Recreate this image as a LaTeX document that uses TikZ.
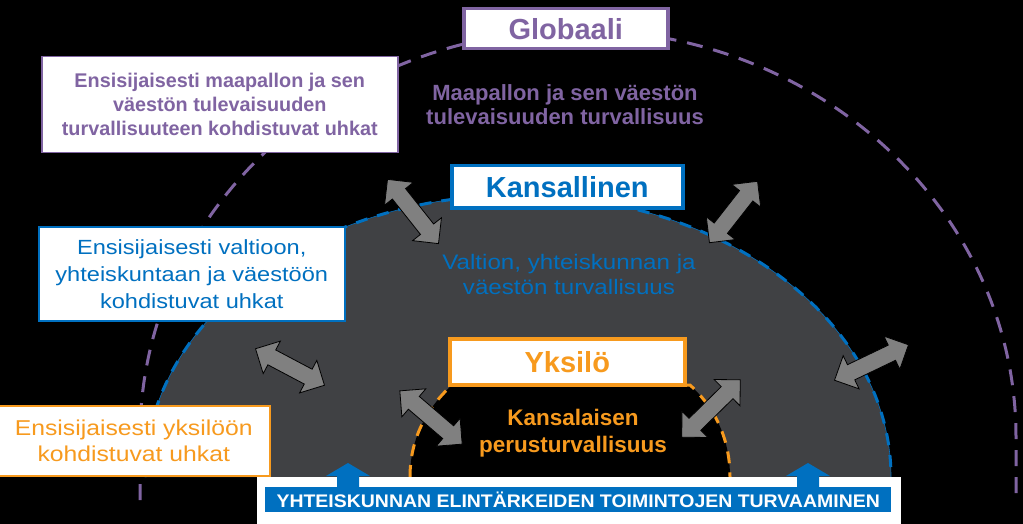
\documentclass[tikz,border=0pt]{standalone}
\usepackage{fontspec}
\setmainfont{Liberation Sans}
\newfontfamily\wide[FakeStretch=1.15]{Liberation Sans}
\newfontfamily\bandf[FakeStretch=1.07]{Liberation Sans}
\usetikzlibrary{shapes.arrows}
\definecolor{pur}{HTML}{8064A2}
\definecolor{blu}{HTML}{0070C0}
\definecolor{ora}{HTML}{F79A1E}
\definecolor{dgr}{HTML}{404144}
\definecolor{agr}{HTML}{808080}
\tikzset{
 title/.style={draw=#1,line width=3.5pt,fill=white,text=#1,font=\bfseries\fontsize{29}{32}\selectfont,inner sep=0pt,anchor=north west},
 desc/.style={draw=#1,line width=1.5pt,fill=white,text=#1,align=center,inner sep=0pt,anchor=north west},
 dbl/.style={double arrow,draw=black,fill=agr,line width=0.8pt,double arrow head extend=10pt,inner sep=8pt,minimum width=18pt},
}
\newcommand{\dblarrow}[3]{%
 \path (#1) -- (#2) node[midway,sloped,dbl,minimum height=#3pt] (#1#2) {};}
\begin{document}
\begin{tikzpicture}[x=1pt,y=-1pt]
\fill[black] (0,0) rectangle (1023,524);
\useasboundingbox (0,0) rectangle (1023,524);
% purple arc
\draw[pur,line width=3pt,dash pattern=on 16pt off 11pt] (140,500) -- (140,437) arc[start angle=180,end angle=0,x radius=438,y radius=-407] -- (1016,500);
% gray half disc
\fill[dgr] (145,477) arc[start angle=180,end angle=0,x radius=373,y radius=-282] -- cycle;
\draw[blu,line width=0.6pt] (145,477) arc[start angle=180,end angle=0,x radius=373,y radius=-282];
\draw[blu,line width=3pt,dash pattern=on 12pt off 10pt] (145,477) arc[start angle=180,end angle=0,x radius=373,y radius=-282];
% inner region
\fill[black] (410,477) .. controls (410,435) and (430,405) .. (452,385) -- (690,385) .. controls (712,405) and (730,435) .. (730,477) -- cycle;
\draw[ora,line width=3pt,dash pattern=on 12pt off 9pt] (410,477) .. controls (410,435) and (430,405) .. (452,385) -- (690,385) .. controls (712,405) and (730,435) .. (730,477);
% title boxes
\node[title=pur,minimum width=204pt,minimum height=40pt] (glob) at (462,7) {Globaali};
\node[title=blu,minimum width=231pt,minimum height=42pt] (kans) at (450,164) {Kansallinen};
\node[title=ora,minimum width=235pt,minimum height=46pt] (yks) at (448,337) {Yksilö};
% descriptions
\node[desc=pur,minimum width=356pt,minimum height=96pt,font=\bfseries\fontsize{19.8}{24}\selectfont] (dg) at (41,56) {Ensisijaisesti maapallon ja sen\\väestön tulevaisuuden\\turvallisuuteen kohdistuvat uhkat};
\node[desc=blu,minimum width=306pt,minimum height=94pt,font=\wide\fontsize{20.5}{27}\selectfont] (dk) at (38,226) {Ensisijaisesti valtioon,\\yhteiskuntaan ja väestöön\\kohdistuvat uhkat};
\node[desc=ora,minimum width=272pt,minimum height=70pt,font=\wide\fontsize{21.5}{26}\selectfont] (dy) at (-3,405) {Ensisijaisesti yksilöön\\kohdistuvat uhkat};
% inner texts
\node[text=pur,font=\bfseries\fontsize{22}{24}\selectfont,align=center] (tg) at (565,105) {Maapallon ja sen väestön\\tulevaisuuden turvallisuus};
\node[text=blu,font=\wide\fontsize{21}{25}\selectfont,align=center] (tk) at (569,274) {Valtion, yhteiskunnan ja\\väestön turvallisuus};
\node[text=ora,font=\bfseries\fontsize{22.5}{27}\selectfont,align=center] (ty) at (573,433) {Kansalaisen\\perusturvallisuus};
% bottom band
\node[fill=white,minimum width=644pt,minimum height=47pt,inner sep=0pt,anchor=north west] (band) at (257,477) {};
\foreach \x/\n in {348/ua,808/ub}{
 \fill[blu] (\x-11,490) -- (\x-11,476) -- (\x-22,476) -- (\x,463) -- (\x+22,476) -- (\x+11,476) -- (\x+11,490) -- cycle;
 \coordinate (\n) at (\x,463);
}
\node[fill=blu,text=white,minimum width=626pt,minimum height=25pt,inner sep=0pt,anchor=north west,font=\bandf\bfseries\fontsize{18.2}{20}\selectfont] (bb) at (265,487) {YHTEISKUNNAN ELINTÄRKEIDEN TOIMINTOJEN TURVAAMINEN};
% gray double arrows
\coordinate (a1) at (388,180); \coordinate (b1) at (438,243);
\coordinate (a2) at (757,182); \coordinate (b2) at (710,242);
\coordinate (a3) at (256,349); \coordinate (b3) at (324,385);
\coordinate (a4) at (400,391); \coordinate (b4) at (462,444);
\coordinate (a5) at (740,380); \coordinate (b5) at (682,437);
\coordinate (a6) at (908,345); \coordinate (b6) at (835,380);
\dblarrow{a1}{b1}{82}
\dblarrow{a2}{b2}{78}
\dblarrow{a3}{b3}{78}
\dblarrow{a4}{b4}{82}
\dblarrow{a5}{b5}{82}
\dblarrow{a6}{b6}{82}
\end{tikzpicture}
\end{document}
